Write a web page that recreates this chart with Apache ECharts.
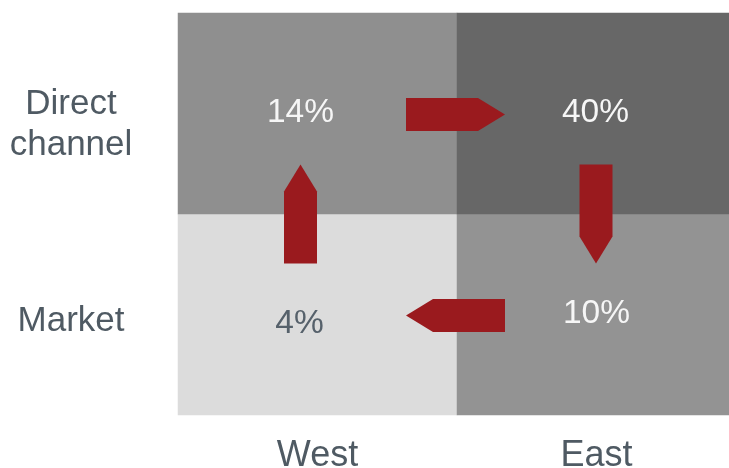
<!DOCTYPE html>
<html>
<head>
<meta charset="utf-8">
<script src="https://cdn.jsdelivr.net/npm/echarts@6/dist/echarts.min.js"></script>
<style>
html,body{margin:0;padding:0;background:#fff;}
#chart{width:729px;height:468px;}
</style>
</head>
<body>
<div id="chart"></div>
<script>
// ---- data ----
const regions = ['West', 'East'];
const channels = ['Market', 'Direct channel'];   // bottom to top
const westShares = [4, 14];    // Market, Direct channel
const eastShares = [10, 40];   // Market, Direct channel
const flows = [
  ['West', 'Direct channel', 'East', 'Direct channel'],
  ['East', 'Direct channel', 'East', 'Market'],
  ['East', 'Market', 'West', 'Market'],
  ['West', 'Market', 'West', 'Direct channel']
];

// ---- styles ----
const cellColors = { 'West|Market': '#dcdcdc', 'West|Direct channel': '#8f8f8f', 'East|Market': '#939393', 'East|Direct channel': '#676767' };
const labelColors = { 'West|Market': '#56616b', 'West|Direct channel': '#f6f6f6', 'East|Market': '#f6f6f6', 'East|Direct channel': '#f6f6f6' };
const labelOffsets = { 'West|Market': [-18, 9], 'West|Direct channel': [-17, -1], 'East|Market': [0, -1], 'East|Direct channel': [-1, -1] };
const arrowRed = '#9a1a1e';
const FONT = '"Liberation Sans", Arial, sans-serif';

const cells = [];
regions.forEach((r, xi) => {
  const vals = xi === 0 ? westShares : eastShares;
  channels.forEach((c, yi) => {
    const k = r + '|' + c;
    cells.push({
      value: [xi, yi, vals[yi]],
      itemStyle: { color: cellColors[k] },
      label: { color: labelColors[k], offset: labelOffsets[k] }
    });
  });
});

const flowData = flows.map(f => [regions.indexOf(f[0]), channels.indexOf(f[1]), regions.indexOf(f[2]), channels.indexOf(f[3])]);

const ARROW_LEN = 99, ARROW_W = 33, HEAD = 27;
function renderArrow(params, api) {
  const a = api.coord([api.value(0), api.value(1)]);
  const b = api.coord([api.value(2), api.value(3)]);
  let cx = (a[0] + b[0]) / 2, cy = (a[1] + b[1]) / 2;
  const dx = b[0] - a[0], dy = b[1] - a[1];
  const len = Math.sqrt(dx * dx + dy * dy);
  const ux = dx / len, uy = dy / len;     // direction
  const px = -uy, py = ux;                // perpendicular
  // visual nudges to match the reference
  if (Math.abs(dx) > Math.abs(dy)) { cx -= 1.5; cy += 1; }
  else { cx += (api.value(0) === 0 ? -17 : -0.5); cy += 0; }
  const h = ARROW_W / 2, L = ARROW_LEN / 2;
  const tail = [cx - ux * L, cy - uy * L];
  const tip = [cx + ux * L, cy + uy * L];
  const hb = [tip[0] - ux * HEAD, tip[1] - uy * HEAD];
  const pts = [
    [tail[0] + px * h, tail[1] + py * h],
    [hb[0] + px * h, hb[1] + py * h],
    tip,
    [hb[0] - px * h, hb[1] - py * h],
    [tail[0] - px * h, tail[1] - py * h]
  ];
  return { type: 'polygon', shape: { points: pts }, style: { fill: arrowRed }, z2: 10 };
}

const chart = echarts.init(document.getElementById('chart'), null, { renderer: 'canvas' });
chart.setOption({
  animation: false,
  backgroundColor: '#ffffff',
  grid: { left: 178, top: 13, width: 558, height: 402, containLabel: false, outerBoundsMode: 'none' },
  xAxis: {
    type: 'category',
    data: regions,
    axisLine: { show: false }, axisTick: { show: false }, splitArea: { show: false }, splitLine: { show: false },
    axisLabel: { color: '#4f5a63', fontSize: 36, fontFamily: FONT, margin: 23 }
  },
  yAxis: {
    type: 'category',
    data: channels,
    axisLine: { show: false }, axisTick: { show: false }, splitArea: { show: false }, splitLine: { show: false },
    axisLabel: {
      color: '#4f5a63', fontSize: 35, fontFamily: FONT, margin: 107, align: 'center',
      formatter: v => v === 'Direct channel' ? '{d|Direct}\n{d|channel}' : '{m|' + v + '}',
      rich: {
        d: { fontSize: 35, fontFamily: FONT, color: '#4f5a63', align: 'center', lineHeight: 41, padding: [22, 0, 0, 0] },
        m: { fontSize: 35, fontFamily: FONT, color: '#4f5a63', align: 'center', lineHeight: 41, padding: [14, 0, 0, 0] }
      }
    }
  },
  series: [
    {
      type: 'heatmap',
      data: cells,
      label: { show: true, fontSize: 33.5, fontFamily: FONT, formatter: p => p.value[2] + '%' },
      itemStyle: { borderWidth: 0 },
      emphasis: { disabled: true }
    },
    {
      type: 'custom',
      data: flowData,
      renderItem: renderArrow,
      z: 10,
      silent: true
    }
  ]
});
</script>
</body>
</html>
